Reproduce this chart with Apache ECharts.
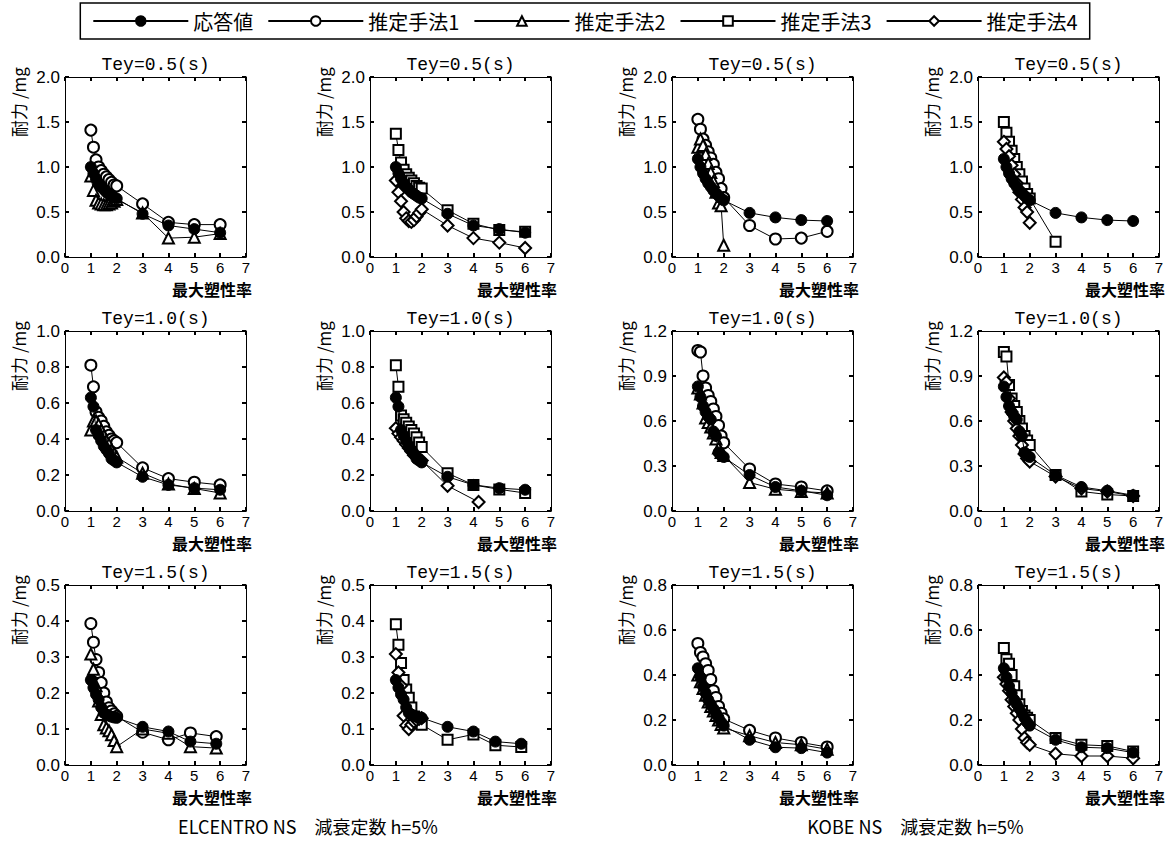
<!DOCTYPE html>
<html><head><meta charset="utf-8">
<script src="https://cdn.jsdelivr.net/npm/echarts/dist/echarts.min.js"></script>
<style>html,body{margin:0;padding:0;background:#fff}#c{width:1170px;height:854px}</style>
</head><body><div id="c"></div><script>
// ---- data ----
const seriesNames = ['応答値', '推定手法1', '推定手法2', '推定手法3', '推定手法4'];
const periods = ['Tey=0.5(s)', 'Tey=1.0(s)', 'Tey=1.5(s)'];
const quakeTitles = ['ELCENTRO NS\u3000減衰定数 h=5%', 'KOBE NS\u3000減衰定数 h=5%'];
const xTicks = [0, 7, 1];
const yAxesE = [[2.0, 0.5], [1.0, 0.2], [0.5, 0.1]];
const yAxesK = [[2.0, 0.5], [1.2, 0.3], [0.8, 0.2]];

const MU = [1.0,1.1,1.2,1.3,1.4,1.5,1.6,1.7,1.8,1.9,2.0,3.0,4.0,5.0,6.0];
const MU_E15 = [1.0,1.1,1.2,1.3,1.4,1.5,1.6,1.7,1.8,1.9,2.0,3.0,4.0,4.85,5.85];
const MU_TO2 = [1.0,1.1,1.2,1.3,1.4,1.5,1.6,1.7,1.8,1.9,2.0];
const MU_TO3 = [1.0,1.1,1.2,1.3,1.4,1.5,1.6,1.7,1.8,1.9,2.0,3.0];
const MU_TO42 = [1.0,1.1,1.2,1.3,1.4,1.5,1.6,1.7,1.8,1.9,2.0,3.0,4.2];

// ELCENTRO Tey=0.5
const e05_resp = [1.00,0.93,0.87,0.82,0.78,0.75,0.72,0.70,0.68,0.66,0.65,0.48,0.35,0.31,0.27];
const e05_m1 = [1.41,1.22,1.08,1.00,0.96,0.92,0.89,0.86,0.83,0.80,0.79,0.59,0.385,0.36,0.36];
const e05_m2 = [0.90,0.74,0.63,0.60,0.59,0.58,0.58,0.59,0.60,0.62,0.64,0.49,0.21,0.22,0.26];
const e05_m3 = [1.37,1.19,1.05,0.97,0.92,0.88,0.85,0.82,0.79,0.77,0.76,0.52,0.37,0.30,0.28];
const e05_m4 = [0.85,0.72,0.62,0.50,0.43,0.40,0.39,0.41,0.45,0.49,0.53,0.35,0.21,0.16,0.10];
// ELCENTRO Tey=1.0
const e10_resp = [0.63,0.58,0.45,0.42,0.39,0.36,0.34,0.32,0.29,0.28,0.27,0.19,0.145,0.127,0.118];
const e10_m1 = [0.81,0.69,0.55,0.52,0.50,0.47,0.44,0.42,0.40,0.39,0.38,0.24,0.18,0.16,0.145];
const e10_m2 = [0.45,0.50,0.50,0.48,0.45,0.42,0.39,0.37,0.34,0.32,0.30,0.21,0.15,0.125,0.10];
const e10_m3 = [0.81,0.69,0.53,0.51,0.49,0.47,0.45,0.43,0.41,0.38,0.355,0.21,0.145,0.12,0.10];
const e10_m4 = [0.46,0.43,0.41,0.39,0.37,0.35,0.33,0.31,0.30,0.29,0.28,0.14,0.05];
// ELCENTRO Tey=1.5
const e15_resp = [0.236,0.215,0.196,0.182,0.160,0.145,0.140,0.137,0.134,0.132,0.131,0.106,0.093,0.065,0.059];
const e15_m1 = [0.393,0.341,0.293,0.257,0.229,0.200,0.175,0.159,0.150,0.142,0.135,0.091,0.070,0.089,0.079];
const e15_m2 = [0.308,0.266,0.220,0.178,0.140,0.112,0.103,0.095,0.084,0.068,0.051,0.100,0.088,0.051,0.047];
const e15_m3 = [0.391,0.334,0.283,0.236,0.210,0.187,0.160,0.135,0.120,0.115,0.112,0.070,0.085,0.055,0.050];
const e15_m4 = [0.308,0.257,0.220,0.137,0.110,0.100,0.112,0.120,0.125,0.128,0.130];
// KOBE Tey=0.5
const k05_resp = [1.09,1.00,0.93,0.87,0.82,0.78,0.74,0.71,0.68,0.65,0.63,0.49,0.44,0.41,0.40];
const k05_m1 = [1.53,1.42,1.31,1.24,1.17,1.10,1.03,0.94,0.87,0.76,0.66,0.35,0.20,0.21,0.285];
const k05_m2 = [1.22,1.31,1.24,1.14,1.04,0.94,0.84,0.72,0.60,0.57,0.13];
const k05_m3 = [1.50,1.38,1.28,1.18,1.09,1.00,0.92,0.84,0.76,0.70,0.65,0.17];
const k05_m4 = [1.28,1.20,1.12,1.02,0.92,0.82,0.72,0.64,0.55,0.50,0.38];
// KOBE Tey=1.0
const k10_resp = [0.83,0.76,0.70,0.66,0.63,0.61,0.53,0.50,0.39,0.37,0.36,0.24,0.16,0.135,0.105];
const k10_m1 = [1.07,1.06,0.90,0.82,0.77,0.73,0.68,0.63,0.57,0.50,0.455,0.28,0.18,0.16,0.134];
const k10_m2 = [0.82,0.78,0.72,0.62,0.59,0.56,0.52,0.48,0.42,0.39,0.37,0.19,0.145,0.13,0.12];
const k10_m3 = [1.06,1.03,0.84,0.75,0.70,0.66,0.60,0.55,0.50,0.47,0.44,0.24,0.13,0.11,0.10];
const k10_m4 = [0.89,0.86,0.75,0.66,0.60,0.55,0.50,0.44,0.38,0.35,0.33,0.23,0.15,0.13,0.10];
// KOBE Tey=1.5
const k15_resp = [0.43,0.39,0.35,0.32,0.29,0.27,0.25,0.23,0.21,0.19,0.175,0.112,0.079,0.075,0.055];
const k15_m1 = [0.54,0.50,0.48,0.45,0.42,0.38,0.33,0.30,0.26,0.23,0.205,0.154,0.12,0.10,0.08];
const k15_m2 = [0.40,0.37,0.34,0.31,0.28,0.26,0.24,0.22,0.20,0.18,0.165,0.13,0.10,0.09,0.07];
const k15_m3 = [0.52,0.47,0.45,0.40,0.35,0.31,0.27,0.24,0.22,0.21,0.20,0.12,0.09,0.085,0.06];
const k15_m4 = [0.39,0.36,0.33,0.29,0.26,0.23,0.20,0.16,0.12,0.10,0.09,0.05,0.04,0.04,0.03];

// panels: [row][col] -> list of [seriesIndex, xs, ys]
const panels = [
  [
    [[1, MU, e05_m1], [2, MU, e05_m2], [0, MU, e05_resp]],
    [[3, MU, e05_m3], [4, MU, e05_m4], [0, MU, e05_resp]],
    [[1, MU, k05_m1], [2, MU_TO2, k05_m2], [0, MU, k05_resp]],
    [[3, MU_TO3, k05_m3], [4, MU_TO2, k05_m4], [0, MU, k05_resp]]
  ],
  [
    [[1, MU, e10_m1], [2, MU, e10_m2], [0, MU, e10_resp]],
    [[3, MU, e10_m3], [4, MU_TO42, e10_m4], [0, MU, e10_resp]],
    [[1, MU, k10_m1], [2, MU, k10_m2], [0, MU, k10_resp]],
    [[3, MU, k10_m3], [4, MU, k10_m4], [0, MU, k10_resp]]
  ],
  [
    [[1, MU_E15, e15_m1], [2, MU_E15, e15_m2], [0, MU_E15, e15_resp]],
    [[3, MU_E15, e15_m3], [4, MU_TO2, e15_m4], [0, MU_E15, e15_resp]],
    [[1, MU, k15_m1], [2, MU, k15_m2], [0, MU, k15_resp]],
    [[3, MU, k15_m3], [4, MU, k15_m4], [0, MU, k15_resp]]
  ]
];

// ---- layout / style ----
const COL_LEFT = [65, 370, 672, 978];
const ROW_TOP = [77, 331, 585];
const PW = 181, PH = 180;
const NUM_FONT = "'Liberation Sans Narrow','Liberation Sans',Arial,sans-serif";
const JP_FONT = "'Noto Sans CJK JP','Noto Sans',sans-serif";
const MONO_FONT = "'Liberation Mono','DejaVu Sans Mono',monospace";
const symbols = ['circle', 'emptyCircle', 'emptyTriangle', 'emptyRect', 'emptyDiamond'];
const symSizes = [11, 11, 11, 10, 12];

const grids = [], xAxes = [], yAxes = [], series = [], graphics = [];
let gi = 0;
for (let r = 0; r < 3; r++) {
  for (let c = 0; c < 4; c++) {
    const left = COL_LEFT[c], top = ROW_TOP[r];
    const ya = (c < 2 ? yAxesE : yAxesK)[r];
    grids.push({left: left, top: top, width: PW, height: PH, show: false});
    const tick = {show: true, inside: true, length: 4, lineStyle: {color: '#000', width: 2}};
    const line = {show: true, onZero: false, lineStyle: {color: '#000', width: 1}};
    xAxes.push({gridIndex: gi, type: 'value', position: 'bottom', min: xTicks[0], max: xTicks[1], interval: xTicks[2],
      axisLine: line, axisTick: tick, splitLine: {show: false},
      axisLabel: {fontSize: 15, color: '#000', margin: 3, fontFamily: NUM_FONT}});
    xAxes.push({gridIndex: gi, type: 'value', position: 'top', min: xTicks[0], max: xTicks[1], interval: xTicks[2],
      axisLine: line, axisTick: tick, splitLine: {show: false}, axisLabel: {show: false}});
    yAxes.push({gridIndex: gi, type: 'value', position: 'left', min: 0, max: ya[0], interval: ya[1],
      axisLine: line, axisTick: tick, splitLine: {show: false},
      axisLabel: {fontSize: 17, color: '#000', margin: 5, fontFamily: NUM_FONT, formatter: v => v.toFixed(1)}});
    yAxes.push({gridIndex: gi, type: 'value', position: 'right', min: 0, max: ya[0], interval: ya[1],
      axisLine: line, axisTick: tick, splitLine: {show: false}, axisLabel: {show: false}});
    panels[r][c].forEach(([si, xs, ys]) => {
      series.push({
        type: 'line', name: seriesNames[si], xAxisIndex: gi * 2, yAxisIndex: gi * 2,
        data: xs.map((x, k) => [x, ys[k]]),
        symbol: symbols[si], symbolSize: symSizes[si], showAllSymbol: true,
        lineStyle: {color: '#000', width: 1}, itemStyle: {color: '#000', borderColor: '#000', borderWidth: 1},
        emphasis: {disabled: true}, animation: false, z: si === 0 ? 5 : 3
      });
    });
    // panel title
    graphics.push({type: 'text', x: left + PW / 2, y: top - 12,
      style: {text: periods[r], fontSize: 18, fontFamily: MONO_FONT, fill: '#000', textAlign: 'center', textVerticalAlign: 'middle'}});
    // y axis name
    graphics.push({type: 'text', x: left - 47, y: top + 25, rotation: Math.PI / 2,
      style: {text: '耐力 /mg', fontSize: 17, fontFamily: JP_FONT, fill: '#000', textAlign: 'center', textVerticalAlign: 'middle'}});
    // x axis name
    graphics.push({type: 'text', x: left + PW + 6, y: top + PH + 32,
      style: {text: '最大塑性率', fontSize: 16, fontWeight: 'bold', fontFamily: JP_FONT, fill: '#000', textAlign: 'right', textVerticalAlign: 'middle'}});
    gi++;
  }
}
// bottom captions
graphics.push({type: 'text', x: (COL_LEFT[0] + COL_LEFT[1] + PW) / 2, y: 826,
  style: {text: quakeTitles[0], fontSize: 18, fontFamily: JP_FONT, fill: '#000', textAlign: 'center', textVerticalAlign: 'middle'}});
graphics.push({type: 'text', x: (COL_LEFT[2] + COL_LEFT[3] + PW) / 2, y: 826,
  style: {text: quakeTitles[1], fontSize: 18, fontFamily: JP_FONT, fill: '#000', textAlign: 'center', textVerticalAlign: 'middle'}});

const chart = echarts.init(document.getElementById('c'), null, {renderer: 'svg', width: 1170, height: 854});
chart.setOption({
  backgroundColor: '#fff',
  animation: false,
  legend: {
    data: seriesNames, top: 3, left: 'center', orient: 'horizontal',
    itemWidth: 95, itemHeight: 12, itemGap: 14, padding: [8, 12],
    borderColor: '#000', borderWidth: 1.5,
    textStyle: {fontSize: 20, fontFamily: JP_FONT, color: '#000'},
    selectedMode: false
  },
  grid: grids, xAxis: xAxes, yAxis: yAxes, series: series, graphic: graphics
});
</script></body></html>
